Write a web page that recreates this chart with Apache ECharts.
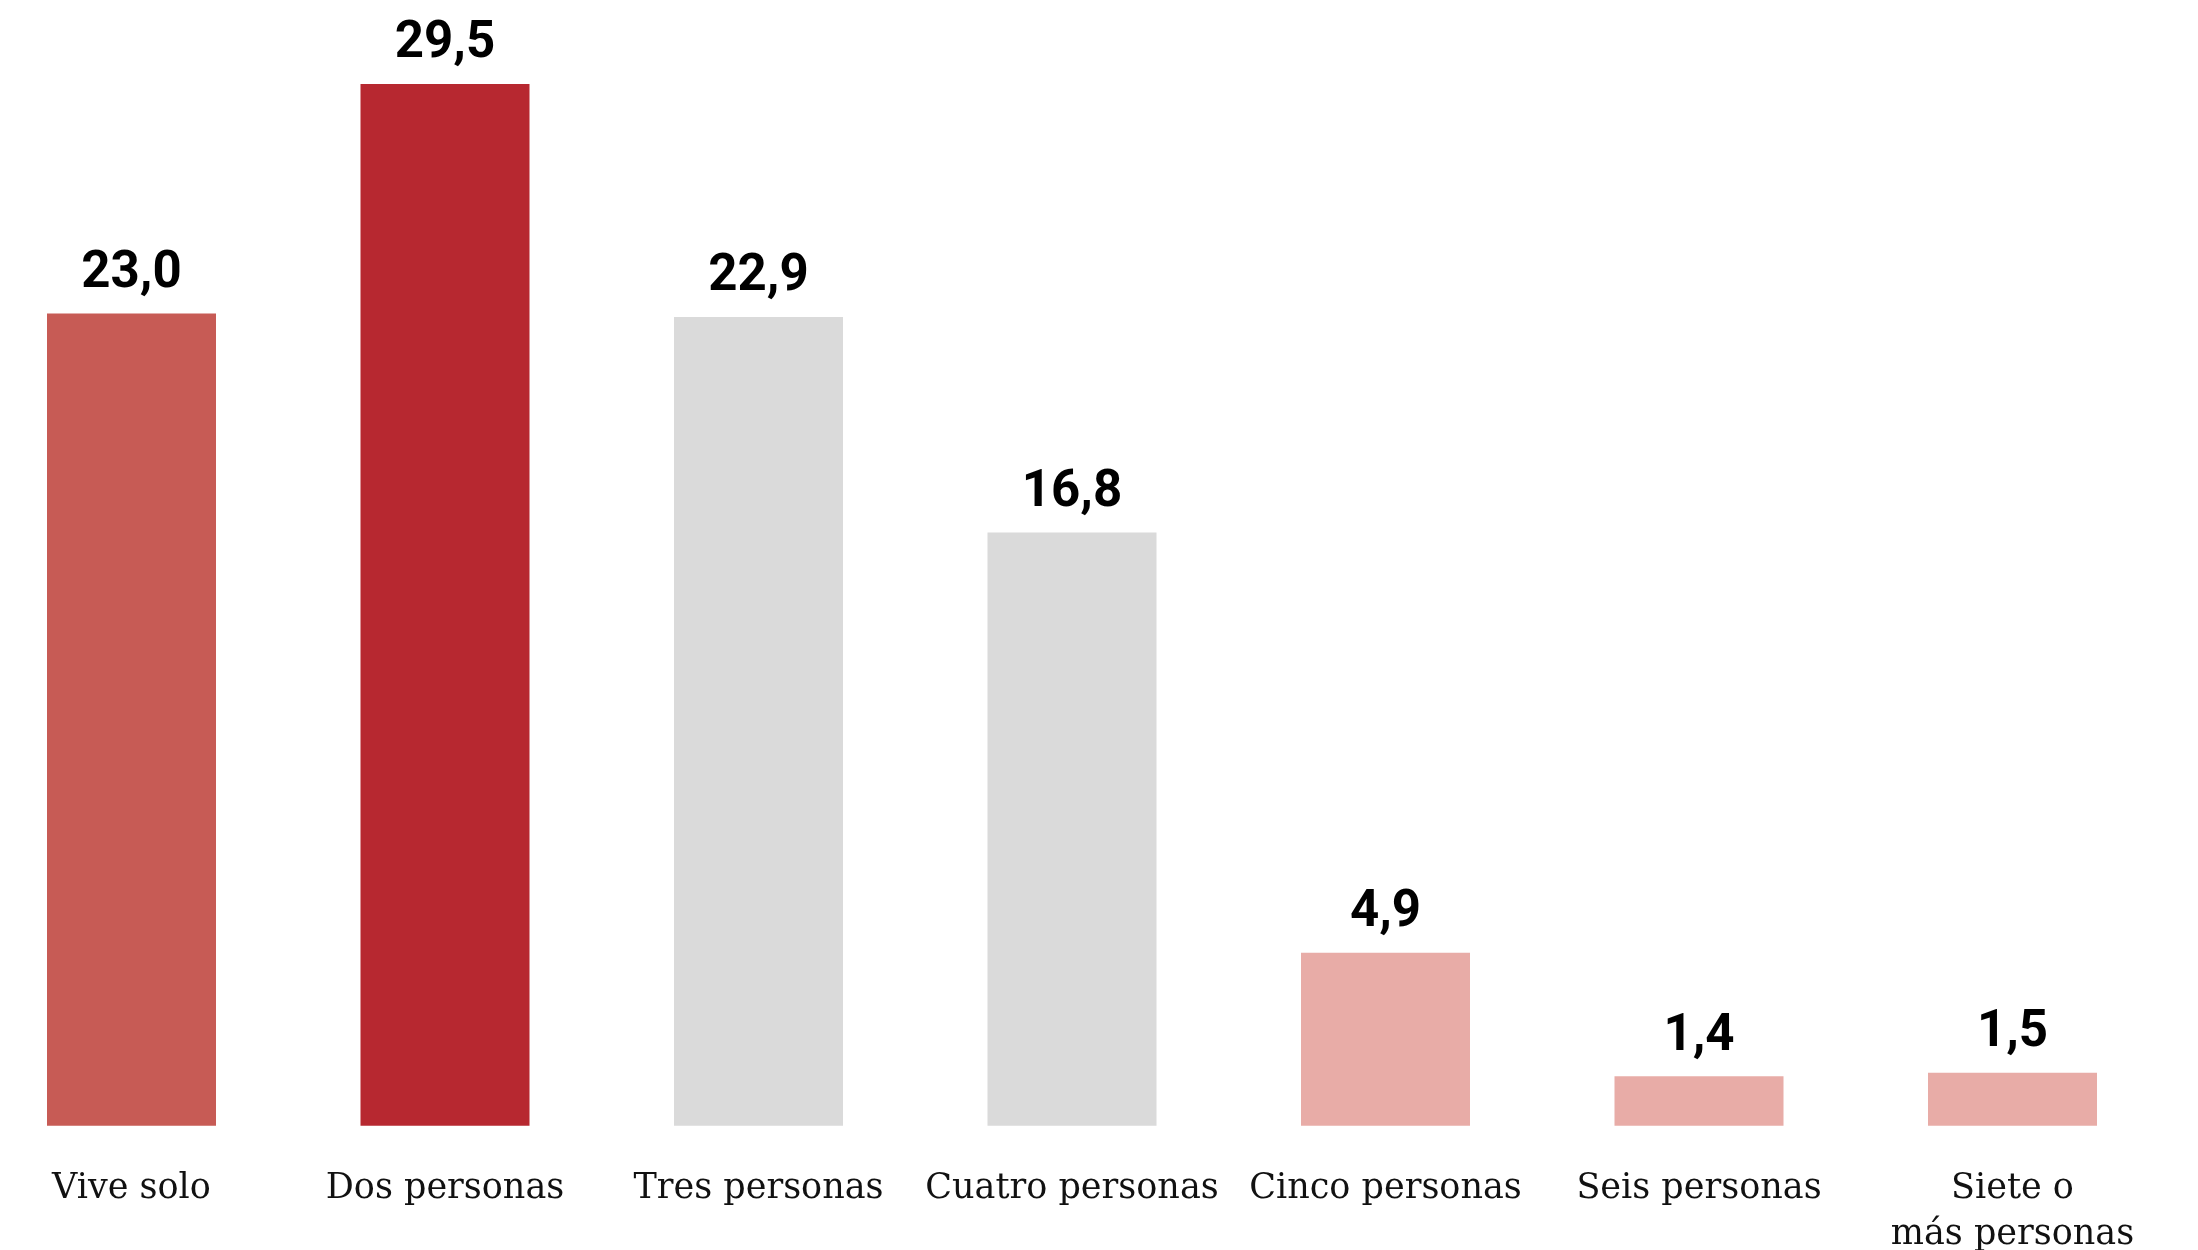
<!DOCTYPE html>
<html><head><meta charset="utf-8">
<script src="https://cdn.jsdelivr.net/npm/echarts@6/dist/echarts.min.js"></script>
<style>html,body{margin:0;padding:0;background:#fff}#c{width:2198px;height:1250px}</style>
</head><body><div id="c"></div>
<script>
const categories = ['Vive solo','Dos personas','Tres personas','Cuatro personas','Cinco personas','Seis personas','Siete o\nmás personas'];
const values = [23.0, 29.5, 22.9, 16.8, 4.9, 1.4, 1.5];
const barColors = ['#C75B55','#B72830','#DADADA','#DADADA','#E8ACA7','#E8ACA7','#E8ACA7'];

const chart = echarts.init(document.getElementById('c'));
chart.setOption({
  animation:false,
  backgroundColor:'#fff',
  grid:{left:131.5, width:1881, top:66.4, height:1059.3, containLabel:false, outerBoundsMode:'none'},
  xAxis:{type:'category', data:categories, boundaryGap:false,
    axisLine:{show:false}, axisTick:{show:false}, splitLine:{show:false},
    axisLabel:{interval:0, margin:40, color:'#111', fontSize:35, lineHeight:46,
      fontFamily:"'DejaVu Serif',serif"}},
  yAxis:{type:'value', min:0, max:30, show:false, splitLine:{show:false}},
  series:[{type:'bar', barWidth:169,
    data:values.map((v,i)=>({value:v, itemStyle:{color:barColors[i]}})),
    label:{show:true, position:'top', distance:14, color:'#000', fontSize:51, fontWeight:'bold',
      fontFamily:'Roboto', formatter:p=>p.value.toFixed(1).replace('.',',')}}]
});
</script></body></html>
